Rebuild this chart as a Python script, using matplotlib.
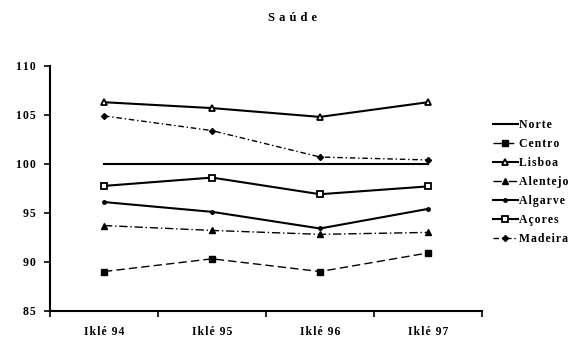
import matplotlib
matplotlib.use('Agg')
import matplotlib.pyplot as plt
import numpy as np

plt.rcParams['font.family'] = ['Liberation Serif', 'DejaVu Serif']

categories = ['Iklé 94', 'Iklé 95', 'Iklé 96', 'Iklé 97']
norte = [100.0, 100.0, 100.0, 100.0]
centro = [89.0, 90.3, 89.0, 90.9]
lisboa = [106.3, 105.7, 104.8, 106.3]
alentejo = [93.7, 93.2, 92.8, 93.0]
algarve = [96.1, 95.1, 93.4, 95.4]
acores = [97.75, 98.6, 96.9, 97.7]
madeira = [104.9, 103.4, 100.7, 100.4]
yticks = [85, 90, 95, 100, 105, 110]


def spaced(s, sep='\u200a'):
    # letter-spaced look of the original
    return sep.join(s)


fig = plt.figure(figsize=(5.76, 3.38), dpi=100)
ax = fig.add_axes([50 / 576, 27.3 / 338, 432 / 576, 244.7 / 338])

x = np.arange(len(categories))
ax.plot(x, norte, color='black', lw=1.5, label=spaced('Norte'))
ax.plot(x, centro, color='black', lw=1.0, ls=(0, (6, 3)), marker='s', ms=4,
        mfc='black', label=spaced('Centro'))
ax.plot(x, lisboa, color='black', lw=1.5, marker='^', ms=4.5, mfc='white',
        mew=1.3, label=spaced('Lisboa'))
ax.plot(x, alentejo, color='black', lw=1.0, ls=(0, (6, 2, 1, 2)), marker='^',
        ms=4, mfc='black', label=spaced('Alentejo'))
ax.plot(x, algarve, color='black', lw=1.5, marker='o', ms=2.5, label=spaced('Algarve'))
ax.plot(x, acores, color='black', lw=1.5, marker='s', ms=4, mfc='white',
        mew=1.3, label=spaced('Açores'))
ax.plot(x, madeira, color='black', lw=1.0, ls=(0, (4, 2, 1, 2)), marker='D',
        ms=3, mfc='black', label=spaced('Madeira'))

ax.set_xlim(-0.5, 3.5)
ax.set_ylim(85, 110)
ax.set_yticks(yticks)
ax.set_yticklabels([spaced(str(v)) for v in yticks], fontsize=8.5, fontweight='bold')
ax.set_xticks(x)
ax.set_xticklabels([spaced(c) for c in categories], fontsize=8.5, fontweight='bold')
ax.set_xticks(np.arange(-0.5, 3.6, 1), minor=True)
ax.tick_params(axis='x', which='major', length=0, pad=11)
ax.tick_params(axis='x', which='minor', length=4, width=1.2, direction='out')
ax.tick_params(axis='y', length=4, width=1.2, direction='out', pad=6)
for s in ['top', 'right']:
    ax.spines[s].set_visible(False)
for s in ['left', 'bottom']:
    ax.spines[s].set_linewidth(1.5)

fig.text(292 / 576, 1 - 18 / 338, spaced('Saúde', ' \u200a'), ha='center',
         va='center', fontsize=9, fontweight='bold')

leg = fig.legend(loc='upper left', bbox_to_anchor=(493 / 576, 1 - 119 / 338),
                 frameon=False, fontsize=8.5, handlelength=2.1, handletextpad=0.1,
                 labelspacing=0.6, borderaxespad=0, borderpad=0)
for t in leg.get_texts():
    t.set_fontweight('bold')

fig.savefig('out.png', dpi=100)
